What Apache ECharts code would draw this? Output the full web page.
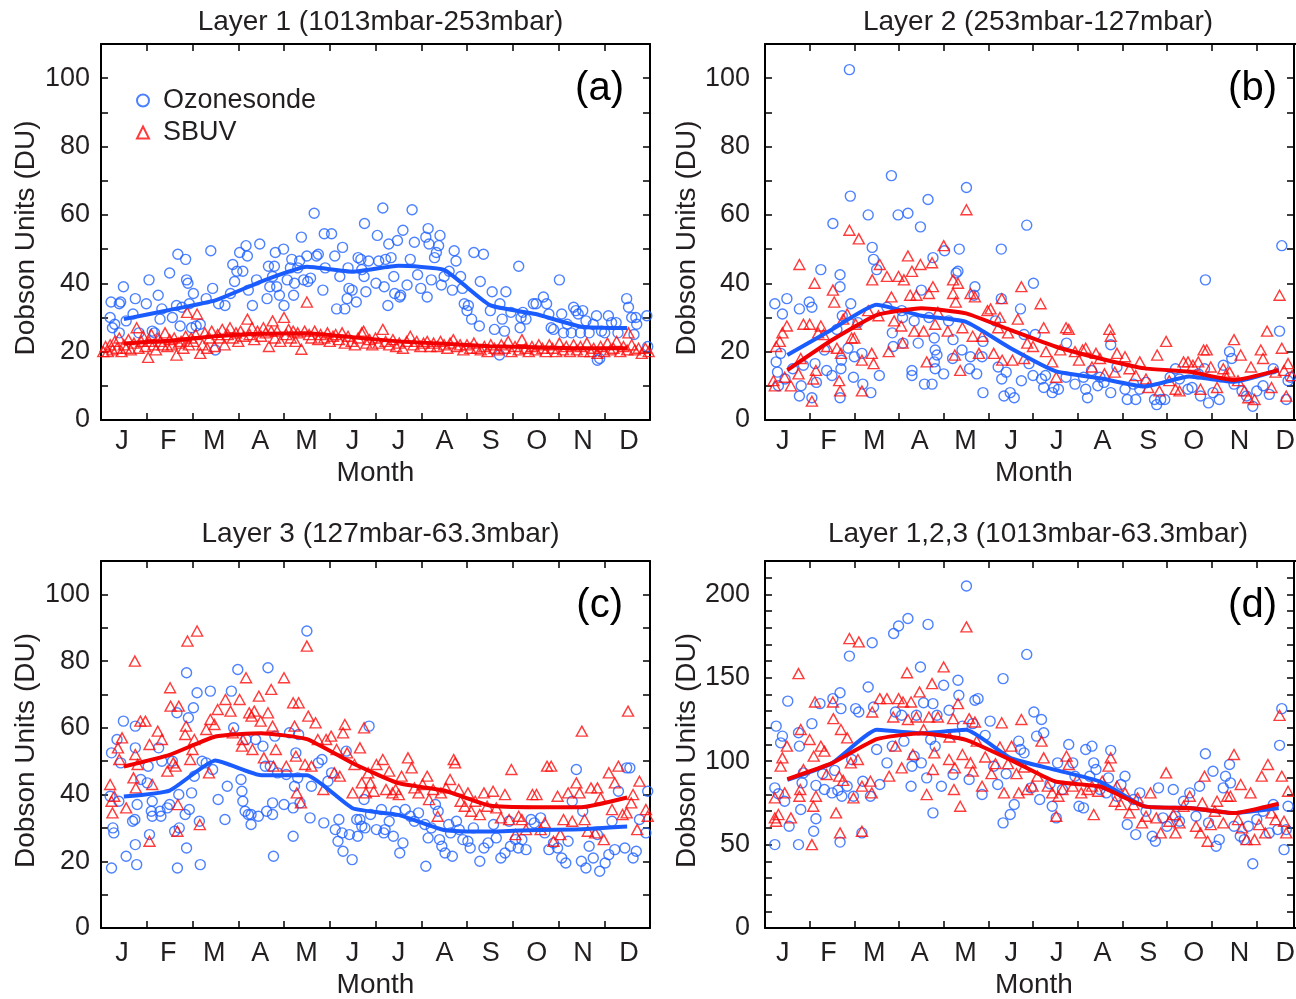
<!DOCTYPE html>
<html>
<head>
<meta charset="utf-8">
<script src="https://cdn.jsdelivr.net/npm/echarts@6/dist/echarts.min.js"></script>
<style>
html,body{margin:0;padding:0;background:#fff;}
#chart{width:1296px;height:999px;}
</style>
</head>
<body>
<div id="chart"></div>
<script>
// ---------------- DATA ----------------
const months = ['J','F','M','A','M','J','J','A','S','O','N','D'];
const monthMid = [0.5,1.5,2.5,3.5,4.5,5.5,6.5,7.5,8.5,9.5,10.5,11.5];

const titles = ['Layer 1 (1013mbar-253mbar)','Layer 2 (253mbar-127mbar)','Layer 3 (127mbar-63.3mbar)','Layer 1,2,3 (1013mbar-63.3mbar)'];
const letters = ['(a)','(b)','(c)','(d)'];

// Panel (a)
const sondeA = [[0.2,30],[0.22,34.5],[0.25,27],[0.3,28],[0.4,34],[0.43,34.5],[0.49,39],[0.55,29],[0.4,25.5],[0.7,31],[0.75,35.5],[0.83,25.5],[0.99,34],[1.05,41],[1.12,26],[1.17,25.5],[1.25,36.5],[1.29,29.5],[1.33,32.5],[1.5,43],[1.56,30],[1.65,33.5],[1.68,48.5],[1.73,27.5],[1.77,33],[1.85,47],[1.87,41],[1.9,40],[1.93,34],[1.98,27],[2.02,37],[2.08,27.5],[2.17,28],[2.3,35.5],[2.4,49.5],[2.44,38.5],[2.5,20.5],[2.57,34],[2.71,33.5],[2.83,37],[2.88,45.5],[2.92,40.5],[2.97,43.5],[3.03,49],[3.1,43.5],[3.17,51],[3.2,48],[3.22,38],[3.31,33.5],[3.4,41],[3.47,51.5],[3.63,35.5],[3.66,45],[3.69,39],[3.75,42],[3.79,45],[3.81,49],[3.84,39],[3.9,36.5],[3.99,50],[4.0,33.5],[4.07,41],[4.14,44.5],[4.17,47],[4.21,36.5],[4.23,40],[4.3,44.5],[4.34,46.5],[4.38,53.5],[4.43,41],[4.5,48],[4.52,40.5],[4.58,41.5],[4.66,60.5],[4.71,48],[4.75,48.5],[4.85,38],[4.88,54.5],[4.9,44.5],[5.04,54.5],[5.11,48],[5.15,32.5],[5.22,42],[5.28,50.5],[5.33,32.5],[5.38,35.5],[5.4,44.5],[5.42,38.5],[5.49,38],[5.58,34.5],[5.62,47.5],[5.68,47],[5.7,44],[5.75,42],[5.76,57.5],[5.79,37.5],[5.85,46.5],[6.01,40],[6.04,54],[6.07,46.5],[6.16,62],[6.19,39],[6.22,47],[6.27,33.5],[6.29,51.5],[6.34,47.5],[6.4,42],[6.42,37],[6.48,52.5],[6.53,36],[6.55,36.5],[6.6,55.5],[6.69,39.5],[6.76,47],[6.8,61.5],[6.85,52],[6.92,42.5],[6.99,38.5],[7.1,53.5],[7.13,36],[7.15,56],[7.17,51.5],[7.22,41],[7.29,47.5],[7.33,49],[7.38,51],[7.41,54],[7.44,39.5],[7.5,42],[7.61,43.5],[7.68,38],[7.72,49.5],[7.76,46.5],[7.86,42],[7.9,38.5],[7.94,34],[8.0,32],[8.03,33.5],[8.1,29.5],[8.15,49],[8.27,27.5],[8.29,40.5],[8.36,48.5],[8.51,32],[8.55,37.5],[8.6,26.5],[8.71,19],[8.72,34],[8.77,29.5],[8.82,26],[8.85,37.5],[8.96,31.5],[9.13,45],[9.16,27],[9.18,30],[9.22,31.5],[9.29,29.5],[9.45,34],[9.51,34],[9.67,36],[9.74,34],[9.79,31],[9.84,27],[9.89,26.5],[10.02,41],[10.07,31],[10.11,25.5],[10.19,28],[10.28,25.5],[10.33,33],[10.38,32],[10.43,31],[10.48,25.5],[10.53,32],[10.6,29],[10.67,25.5],[10.76,28],[10.83,30.5],[10.85,17.5],[10.9,18],[10.94,26],[11.01,25.5],[11.09,30.5],[11.16,28.5],[11.26,28.5],[11.3,25.5],[11.49,35.5],[11.53,33],[11.6,30],[11.65,25],[11.69,30],[11.71,28],[11.93,30.5],[11.95,21.5]];
const sbuvA = [[0.05,20],[0.1,21.5],[0.15,20],[0.2,22],[0.25,20.5],[0.3,23],[0.35,21],[0.4,24],[0.45,20],[0.5,22],[0.55,21],[0.6,23.5],[0.65,20.5],[0.72,22.5],[0.78,27],[0.82,21],[0.88,23],[0.92,24.5],[0.97,21.5],[1.03,18.3],[1.05,23],[1.1,25],[1.15,22],[1.2,20.5],[1.25,24],[1.3,23],[1.35,22],[1.4,25.5],[1.45,21.5],[1.5,23.5],[1.55,22],[1.6,24],[1.65,19],[1.7,22.5],[1.75,23],[1.8,21],[1.85,24.5],[1.88,31.5],[1.92,22],[1.97,24],[2.02,23],[2.07,25],[2.1,31],[2.17,19.5],[2.22,22],[2.27,25.5],[2.32,21],[2.37,24],[2.42,26],[2.48,21.5],[2.55,25],[2.6,24],[2.65,26.5],[2.7,22],[2.77,25],[2.82,27],[2.88,24],[2.95,25.5],[3.0,23],[3.05,26],[3.12,24.5],[3.2,29.5],[3.25,25],[3.3,27],[3.35,23.5],[3.42,26],[3.5,24.5],[3.55,27],[3.6,25.5],[3.67,21.5],[3.72,26],[3.75,29],[3.8,24],[3.85,26],[3.92,23],[4.0,30],[4.05,25],[4.1,26.5],[4.15,24],[4.2,26],[4.25,23],[4.3,25.5],[4.38,20.7],[4.45,26],[4.5,34.5],[4.55,25],[4.6,24],[4.67,26],[4.75,23.5],[4.8,25],[4.88,24],[4.95,25.5],[5.0,23],[5.07,24.5],[5.13,25],[5.2,23.5],[5.27,25.5],[5.33,22.5],[5.4,24.5],[5.48,23],[5.55,22],[5.62,24],[5.7,25.5],[5.74,26],[5.8,22.5],[5.87,23.5],[5.93,22],[6.0,24],[6.07,22.5],[6.16,26.5],[6.22,23],[6.3,22],[6.38,23.5],[6.45,21.5],[6.52,22.5],[6.6,21],[6.68,23],[6.76,24.5],[6.83,22],[6.9,23],[6.98,21.5],[7.05,22.5],[7.13,23],[7.2,21.5],[7.27,22.5],[7.35,21.5],[7.42,23],[7.5,22],[7.57,21],[7.63,22.5],[7.7,23.5],[7.78,21.5],[7.85,22],[7.92,20.5],[8.0,22],[8.07,21],[8.15,22.5],[8.22,21],[8.3,20.5],[8.38,21.5],[8.45,20],[8.52,22],[8.6,21],[8.68,20.5],[8.75,22],[8.82,21],[8.9,23],[8.97,20],[9.05,21.5],[9.13,20.5],[9.2,23.5],[9.28,21],[9.35,20],[9.42,21.5],[9.5,20.5],[9.57,22],[9.65,21],[9.72,20],[9.8,22],[9.87,21],[9.95,20],[10.02,22.5],[10.1,20.5],[10.17,21.5],[10.25,20],[10.33,22],[10.4,20.5],[10.48,21.5],[10.55,20],[10.62,22.5],[10.7,20],[10.77,21],[10.85,19.5],[10.92,21.5],[11.0,20],[11.07,22.5],[11.13,20.5],[11.2,21],[11.27,23],[11.35,20],[11.42,21.5],[11.5,20.5],[11.53,25.5],[11.6,22],[11.67,20.5],[11.75,21],[11.82,19.5],[11.9,21],[11.97,20]];
const meanSondeA = [29.5,32.2,35,40.5,44.8,43.4,45.1,43.9,33.6,31,27.3,26.9];
const meanSbuvA = [22.4,23.2,24.5,25.2,25.4,24.2,23,22.3,21.6,21.3,21,21];

// Panel (b)
const sondeB = [[0.22,34],[0.25,17],[0.28,14],[0.3,10],[0.35,19.5],[0.39,31],[0.45,12],[0.49,35.5],[0.62,15],[0.77,7],[0.77,32.5],[0.81,10],[0.86,16],[0.99,34.5],[1.05,33],[1.05,6.5],[1.12,16.5],[1.15,11],[1.25,44],[1.33,20.5],[1.38,14.5],[1.5,13],[1.52,57.5],[1.61,26.5],[1.68,42.5],[1.68,39],[1.7,15],[1.71,17.5],[1.68,6.5],[1.73,30.5],[1.89,102.5],[1.91,65.5],[1.92,34],[1.86,21],[2.0,18.5],[1.98,12.5],[2.08,28.5],[2.17,19.5],[2.19,10.5],[2.31,60],[2.37,8],[2.4,50.5],[2.43,47],[2.5,44],[2.56,13],[2.73,33],[2.83,71.5],[2.85,25.5],[2.87,21.5],[2.98,60],[3.06,32],[3.08,30],[3.09,22.5],[3.2,60.5],[3.29,14.5],[3.29,13],[3.34,29],[3.43,22.5],[3.48,56.5],[3.5,38],[3.57,10.5],[3.65,64.5],[3.67,30],[3.74,10.5],[3.76,47.5],[3.79,17],[3.81,20.5],[3.79,24],[3.85,19],[3.81,15],[4.0,13.5],[4.02,49.5],[4.11,29],[4.2,18],[4.21,23.5],[4.28,43],[4.32,43.5],[4.35,50],[4.41,20.5],[4.51,68],[4.58,15],[4.6,18.5],[4.68,36.5],[4.7,39],[4.74,13.5],[4.88,8],[4.88,23],[4.86,18.5],[5.16,29],[5.22,15.5],[5.29,50],[5.29,35.5],[5.3,12],[5.35,7],[5.4,14],[5.49,8],[5.58,6.5],[5.72,32.5],[5.74,11.5],[5.8,25],[5.86,57],[5.91,16.5],[6.01,40],[6.0,13],[6.05,25],[6.19,12],[6.24,9.5],[6.28,13],[6.43,8],[6.47,9.5],[6.57,9],[6.75,22.5],[6.74,12.5],[6.94,10.5],[7.13,12.5],[7.18,9],[7.22,6.5],[7.31,14.5],[7.45,10],[7.5,12.5],[7.59,11],[7.74,22],[7.74,8],[7.88,15.5],[8.06,9],[8.11,6],[8.25,10.5],[8.3,6],[8.39,9],[8.53,11],[8.72,6],[8.77,4.5],[8.86,6],[8.95,6],[9.07,12.5],[9.19,15],[9.28,12],[9.47,9],[9.56,9.5],[9.7,13.5],[9.75,7],[9.84,15],[9.86,41],[9.93,5],[10.03,8],[10.17,6],[10.26,16],[10.4,20],[10.45,18],[10.5,10.5],[10.68,8.5],[10.78,7],[10.92,4],[11.01,8.5],[11.15,10],[11.29,7.5],[11.38,15],[11.52,26],[11.57,51],[11.67,6],[11.71,11.5],[11.76,12.5]];
const sbuvB = [[0.19,11.5],[0.22,10],[0.25,21.5],[0.33,23],[0.39,25.5],[0.49,27.5],[0.44,12.5],[0.58,10],[0.77,45.5],[0.75,13.5],[0.8,18],[0.86,28],[1.0,28],[1.05,5.5],[1.08,12],[1.11,40],[1.14,14.5],[1.19,25.5],[1.25,27.5],[1.31,25],[1.39,21.5],[1.52,38],[1.55,34.5],[1.61,21],[1.66,11.5],[1.68,8.5],[1.7,19.5],[1.75,29.5],[1.84,31],[1.89,55.5],[1.94,24],[2.0,24],[2.03,28],[2.1,53],[2.17,8.5],[2.17,17.5],[2.31,32],[2.39,19.5],[2.4,41],[2.43,16.5],[2.54,30.5],[2.57,45.5],[2.73,42],[2.77,20],[2.83,36],[2.89,29],[2.99,42],[3.05,27.5],[3.08,22.5],[3.11,41],[3.2,48],[3.25,36.5],[3.29,43.5],[3.34,26],[3.39,36.5],[3.48,45.5],[3.55,26],[3.62,17],[3.67,37],[3.74,46],[3.76,39],[3.81,28],[3.87,31.5],[4.0,51],[4.09,26],[4.21,41],[4.21,37],[4.25,19],[4.27,34.5],[4.32,40],[4.37,14.5],[4.42,27],[4.51,61.5],[4.6,37],[4.65,24.5],[4.7,36],[4.79,19.5],[4.86,24.5],[4.98,32],[5.05,32.5],[5.12,19.5],[5.22,27],[5.26,30],[5.3,35.5],[5.31,17.5],[5.44,25.5],[5.54,17.5],[5.66,29.5],[5.74,39],[5.8,18],[5.87,22.5],[6.0,21.5],[6.17,34],[6.24,27],[6.29,20],[6.43,17],[6.52,12.5],[6.61,20.5],[6.74,27],[6.8,26.5],[6.94,20],[7.03,17.5],[7.11,20.5],[7.18,21],[7.32,15.5],[7.41,19.5],[7.5,18],[7.6,13.5],[7.71,26.5],[7.74,24.5],[7.83,14],[7.88,19.5],[8.06,18.5],[8.16,15],[8.3,13],[8.39,17],[8.53,12],[8.58,9.5],[8.78,19],[8.83,8.5],[8.98,23],[9.05,11.5],[9.19,9],[9.28,8.5],[9.37,17],[9.47,17],[9.58,16],[9.7,17],[9.75,9],[9.82,20.5],[9.89,20.5],[9.98,15.5],[10.12,9.5],[10.26,15],[10.31,13],[10.4,14],[10.5,23.5],[10.59,11.5],[10.65,19],[10.73,8.5],[10.82,6.5],[10.88,15.5],[10.96,6],[11.1,20.5],[11.15,18],[11.24,26],[11.34,9.5],[11.43,14],[11.52,36.5],[11.57,21],[11.62,14.5],[11.67,7],[11.71,16.5],[11.8,13]];
const meanSondeB = [19,26.5,33.7,30.5,28.7,21,14.3,12.2,9.8,12.7,11.2,14.6];
const meanSbuvB = [14.6,23.4,30.7,32.7,31.2,26.3,21.5,18,15.1,14.1,11.7,14.6];

// Panel (c)
const sondeC = [[0.2,39.5],[0.23,52.5],[0.23,18],[0.26,30],[0.28,28.5],[0.35,56.5],[0.39,38],[0.43,49.5],[0.49,62],[0.55,21.5],[0.69,32],[0.74,32.5],[0.75,60.5],[0.75,54],[0.75,25],[0.78,19],[0.79,37],[0.87,44.5],[1.01,43.5],[1.03,48.5],[1.06,28],[1.1,35],[1.12,33.5],[1.12,38],[1.26,54],[1.29,35],[1.31,33.5],[1.33,50],[1.45,36],[1.5,37],[1.56,50],[1.61,29],[1.66,64.5],[1.67,18],[1.7,40],[1.71,30],[1.84,34],[1.87,24],[1.87,76.5],[1.91,63],[1.93,35.5],[1.98,40.5],[2.02,66],[2.04,45.5],[2.1,70.5],[2.15,32],[2.17,19],[2.21,50],[2.3,49.5],[2.39,71],[2.44,47.5],[2.56,38.5],[2.71,32.5],[2.76,42.5],[2.85,71],[2.9,60],[2.99,77.5],[3.06,44.5],[3.08,41],[3.1,38],[3.15,35],[3.17,56.5],[3.22,34],[3.28,31],[3.28,34],[3.38,56.5],[3.44,33.5],[3.54,54.5],[3.59,48.5],[3.62,35],[3.65,78],[3.7,48.5],[3.75,37.5],[3.75,34],[3.77,21.5],[3.8,57.5],[3.86,46.5],[4.0,37],[4.05,46],[4.12,58.5],[4.2,36],[4.2,27.5],[4.23,42.5],[4.26,52.5],[4.3,45],[4.32,58],[4.35,37.5],[4.5,89],[4.57,33],[4.6,42.5],[4.75,49.5],[4.83,50.5],[4.87,31.5],[4.96,44],[5.04,46.5],[5.12,29.5],[5.18,26],[5.2,32.5],[5.27,28.5],[5.29,23],[5.36,53],[5.43,28],[5.49,20.5],[5.59,32.5],[5.61,27.5],[5.66,32.5],[5.7,30.5],[5.75,38.5],[5.77,30],[5.86,60.5],[5.89,34],[6.02,29.5],[6.13,35.5],[6.18,28.5],[6.21,29.5],[6.3,32],[6.39,27.5],[6.44,35],[6.53,22.5],[6.6,25.5],[6.65,35.5],[6.76,33.5],[6.85,32],[6.94,34.5],[7.08,31],[7.1,18.5],[7.15,27],[7.22,30],[7.31,37],[7.37,35],[7.4,26.5],[7.45,24.5],[7.52,22.5],[7.6,31],[7.64,28.5],[7.68,21.5],[7.77,32],[7.83,29.5],[7.91,26.5],[8.02,26],[8.07,24],[8.14,30],[8.28,20],[8.37,24],[8.46,25.5],[8.58,31],[8.64,27],[8.74,21],[8.83,22.5],[8.92,32],[8.95,24.5],[9.06,26.5],[9.12,24],[9.2,26.5],[9.29,23.5],[9.4,32.5],[9.47,31.5],[9.61,33],[9.7,28.5],[9.79,23.5],[9.89,25.5],[9.98,24],[10.07,21],[10.16,19.5],[10.21,26],[10.3,38],[10.39,47.5],[10.5,20],[10.53,35],[10.6,18],[10.67,24.5],[10.76,21],[10.85,28],[10.9,17],[11.02,19.5],[11.1,22],[11.17,32],[11.23,23.5],[11.31,41],[11.45,24],[11.49,48],[11.56,48],[11.63,21],[11.7,23],[11.77,32.5],[11.91,28.5],[11.95,41]];
const sbuvC = [[0.2,43],[0.23,38],[0.25,34.5],[0.29,39.5],[0.37,54],[0.4,50.5],[0.46,57],[0.55,36],[0.71,45],[0.74,80],[0.75,52],[0.76,42],[0.8,49],[0.86,62],[0.97,62],[1.06,55],[1.06,26],[1.12,43],[1.24,59],[1.33,56.5],[1.45,47],[1.51,72],[1.52,66.5],[1.58,49.5],[1.63,48.5],[1.67,29],[1.68,37],[1.7,66.5],[1.84,58],[1.86,60.5],[1.89,86],[1.95,50.5],[2.0,53.5],[2.04,56.5],[2.1,89],[2.16,31],[2.3,59.5],[2.36,46.5],[2.39,62.5],[2.48,61],[2.55,65.5],[2.72,68.5],[2.83,65],[2.88,58.5],[3.03,68.5],[3.08,54.5],[3.1,56.5],[3.17,75],[3.24,64.5],[3.29,63.5],[3.31,53.5],[3.35,65],[3.45,69.5],[3.49,62],[3.56,51],[3.65,64.5],[3.72,71.5],[3.75,60.5],[3.77,48.5],[3.82,53.5],[4.0,75],[4.05,48.5],[4.2,67.5],[4.23,60.5],[4.26,51.5],[4.28,40.5],[4.32,67.5],[4.37,37.5],[4.46,49],[4.5,84.5],[4.53,63.5],[4.6,48.5],[4.69,61.5],[4.74,56.5],[4.86,41.5],[4.92,56.5],[5.03,57.5],[5.1,46.5],[5.15,53.5],[5.22,45.5],[5.29,58.5],[5.33,61],[5.38,52.5],[5.5,40.5],[5.54,49],[5.66,54],[5.7,43.5],[5.75,60],[5.79,40.5],[5.84,46.5],[5.89,43.5],[5.96,41],[6.02,49],[6.16,50.5],[6.23,41.5],[6.3,47],[6.37,40.5],[6.44,41.5],[6.51,40],[6.57,45.5],[6.71,51],[6.79,48],[6.85,42],[6.94,40.5],[7.03,43],[7.13,45.5],[7.17,38.5],[7.26,41.5],[7.36,33.5],[7.43,40.5],[7.54,42],[7.63,44.5],[7.71,50.5],[7.74,49.5],[7.82,41.5],[7.86,38],[7.95,36.5],[8.02,40.5],[8.09,35],[8.18,38],[8.28,34],[8.37,40.5],[8.44,36.5],[8.57,41],[8.64,36],[8.74,33],[8.83,40],[8.92,32.5],[8.97,47.5],[9.06,28],[9.13,33.5],[9.2,32.5],[9.29,29.5],[9.43,40],[9.52,40],[9.61,29.5],[9.7,31.5],[9.75,48.5],[9.84,48.5],[9.89,26],[9.98,39.5],[10.04,28],[10.11,32.5],[10.21,40.5],[10.3,32],[10.39,43.5],[10.46,40.5],[10.51,59],[10.57,32.5],[10.64,29],[10.71,42],[10.8,28.5],[10.85,42],[10.92,39],[10.99,26.5],[11.1,46.5],[11.17,35.5],[11.23,43.5],[11.31,48.5],[11.4,34],[11.49,34.5],[11.52,65],[11.59,37.5],[11.63,40],[11.72,29.5],[11.77,44],[11.91,35.5],[11.95,33.5]];
const meanSondeC = [39.4,41.2,50.2,45.8,45.8,35.9,33.9,29.4,28.9,29.4,29.6,30.4];
const meanSbuvC = [48.4,51.9,57.4,58.4,56.6,49.4,43.4,41.2,36.7,36.2,36.2,39.1];

// Panel (d)
const sondeD = [[0.22,50],[0.22,84],[0.25,121],[0.3,80.5],[0.35,111],[0.39,115],[0.44,76],[0.51,136],[0.54,61],[0.75,50],[0.75,117],[0.77,109],[0.8,71],[0.83,87],[0.86,93],[1.05,122.5],[1.09,58],[1.14,65.5],[1.14,85.5],[1.23,134.5],[1.29,92.5],[1.33,83],[1.5,81],[1.52,137.5],[1.56,94.5],[1.63,82.5],[1.68,51.5],[1.68,141],[1.7,131.5],[1.72,79],[1.84,85],[1.89,163],[1.94,101],[1.98,79],[2.03,131.5],[2.1,129.5],[2.17,57],[2.19,88],[2.31,144.5],[2.36,79],[2.4,171],[2.43,132.5],[2.5,107],[2.57,86],[2.73,99],[2.85,109],[2.88,176.5],[2.92,129.5],[2.99,181],[3.06,127.5],[3.11,112],[3.2,185.5],[3.27,85],[3.29,97],[3.34,103],[3.39,127.5],[3.48,156.5],[3.5,99],[3.55,135],[3.62,90],[3.65,182],[3.71,113],[3.76,134.5],[3.76,69],[3.81,109],[3.85,127.5],[3.95,85],[4.0,145.5],[4.12,130.5],[4.21,92],[4.25,116],[4.32,148.5],[4.34,139.5],[4.42,121],[4.51,205],[4.57,89],[4.65,122.5],[4.7,136.5],[4.77,137.5],[4.86,80],[4.93,115.5],[5.04,124],[5.12,97],[5.21,86],[5.33,149.5],[5.33,63],[5.4,92.5],[5.49,68],[5.58,74],[5.68,112],[5.72,107],[5.8,105],[5.86,164],[5.96,84],[6.02,129.5],[6.08,115],[6.15,77],[6.19,125],[6.24,117],[6.38,86.5],[6.43,73],[6.52,66],[6.55,99],[6.66,83],[6.8,110],[6.89,99],[6.94,91],[7.03,73],[7.13,72],[7.18,107],[7.27,91],[7.32,109],[7.36,99],[7.41,95],[7.5,83],[7.64,81],[7.69,90],[7.74,106.5],[7.88,79],[7.97,86],[8.06,91],[8.11,62],[8.25,77],[8.3,56],[8.39,81],[8.53,70],[8.67,55],[8.74,52],[8.81,84],[8.91,66],[9.0,61],[9.14,83],[9.19,67],[9.28,64],[9.37,76],[9.51,81],[9.65,67],[9.73,85],[9.86,104.5],[9.93,63],[10.03,94],[10.1,49],[10.17,53],[10.26,84],[10.31,91],[10.4,98],[10.42,87],[10.5,61],[10.64,55],[10.73,53],[10.82,61],[10.92,38.5],[11.01,65],[11.15,70],[11.29,57],[11.38,74],[11.48,59],[11.52,109.5],[11.57,131.5],[11.62,47],[11.67,59],[11.71,73]];
const sbuvD = [[0.22,78],[0.22,66],[0.25,64],[0.3,68],[0.35,97],[0.39,102],[0.49,109],[0.44,81],[0.58,66],[0.75,152.5],[0.77,79],[0.79,83],[0.8,119],[0.86,95],[1.0,113],[1.05,50],[1.08,73],[1.09,103],[1.12,135.5],[1.14,79],[1.25,109],[1.33,106],[1.38,92],[1.52,135.5],[1.53,125.5],[1.59,69],[1.66,91],[1.68,57],[1.7,119],[1.75,88.5],[1.84,114],[1.89,173.5],[1.92,99],[1.98,78],[2.08,101],[2.1,171.5],[2.17,58],[2.17,85],[2.36,88],[2.39,81],[2.4,129.5],[2.57,137.5],[2.73,137.5],[2.78,91],[2.87,126.5],[2.92,109],[2.99,137.5],[3.06,96],[3.09,135.5],[3.18,153],[3.2,125],[3.27,135.5],[3.31,104],[3.39,126.5],[3.46,141.5],[3.55,119],[3.62,80],[3.67,126.5],[3.74,146.5],[3.76,95],[3.79,105],[3.87,126.5],[4.0,156.5],[4.12,101],[4.13,114.5],[4.21,125.5],[4.23,83],[4.25,96],[4.32,134.5],[4.37,73],[4.42,104],[4.51,180.5],[4.57,125.5],[4.6,99],[4.65,94],[4.7,123.5],[4.74,112],[4.86,85],[4.93,102.5],[5.07,92.5],[5.16,98.5],[5.26,108.5],[5.3,123],[5.35,81],[5.44,98.5],[5.52,109],[5.63,92.5],[5.68,81],[5.74,125],[5.8,96.5],[5.87,83],[5.99,85],[6.1,91],[6.19,112],[6.24,102],[6.33,85],[6.43,81],[6.52,67],[6.57,79],[6.66,83],[6.75,103],[6.8,98],[6.89,85],[6.99,89],[7.08,81],[7.22,83],[7.32,85],[7.36,68],[7.46,82],[7.55,88],[7.69,97],[7.74,102],[7.83,76],[7.88,85],[7.97,74],[8.06,81],[8.16,69],[8.25,74],[8.34,78],[8.44,63],[8.53,67],[8.63,81],[8.76,66],[8.86,57],[8.98,93],[9.05,64],[9.14,68],[9.19,57],[9.28,63],[9.37,73],[9.51,79],[9.65,61],[9.75,57],[9.79,75],[9.84,91],[9.91,52],[9.98,62],[10.07,70],[10.12,76],[10.26,63],[10.35,79],[10.42,79],[10.5,104],[10.59,65],[10.65,86],[10.68,60],[10.78,53],[10.87,81],[10.96,53],[11.06,62],[11.12,91],[11.2,57],[11.26,98],[11.34,69],[11.43,65],[11.52,127.5],[11.57,91],[11.62,64],[11.67,57],[11.71,82]];
const meanSondeD = [88.8,98.8,118.8,116.8,118.8,101.8,94.8,87.8,72.9,71.9,68.9,71.9];
const meanSbuvD = [89.2,98.8,113.2,116.8,112.8,100.8,87.8,84.8,72.9,71.9,68.9,74.5];

const yMaxes = [110,110,110,220];
const yLabelSteps = [20,20,20,50];

// ---------------- STYLE / LAYOUT ----------------
const FONT = "'Liberation Sans', Arial, Helvetica, sans-serif";
const TXT = '#231f20';
const BLUE = '#1f62ff';
const BLUE_LINE = '#1b5cff';
const RED = '#ff0a0a';
const RED_LINE = '#f00000';
const TICK_FS = 27, NAME_FS = 28, TITLE_FS = 28;

// plotting frames
const grids = [
  {left:101, top:44, width:549, height:376},
  {left:765, top:44, width:536, height:376},
  {left:101, top:561, width:549, height:367},
  {left:765, top:561, width:536, height:367}
];
// frames that carry the month letters and the "Month" name (labels spread slightly wider than ticks)
const labelGrids = [
  {left:99, top:44, width:553, height:376},
  {left:760, top:44, width:548, height:376},
  {left:99, top:561, width:553, height:367},
  {left:760, top:561, width:548, height:367}
];
const labelMargins = [11,15,11,15];
const nameGaps = [61,64,61,64];
const rightOffsets = [0,-7,0,-7];
const monthMargins = [8,8,12,12];
const monthNameGaps = [39,39,43,43];

const panels = [
  {sonde:sondeA, sbuv:sbuvA, mSonde:meanSondeA, mSbuv:meanSbuvA},
  {sonde:sondeB, sbuv:sbuvB, mSonde:meanSondeB, mSbuv:meanSbuvB},
  {sonde:sondeC, sbuv:sbuvC, mSonde:meanSondeC, mSbuv:meanSbuvC},
  {sonde:sondeD, sbuv:sbuvD, mSonde:meanSondeD, mSbuv:meanSbuvD}
];

const xAxes = [], yAxes = [], series = [], titleList = [];
const axisLineStyle = {color:'#000', width:2};
const tickStyle = {color:'#000', width:1.5};

panels.forEach((p, i) => {
  const g = grids[i];
  // data x axis (hidden)              index 3i
  xAxes.push({type:'value', gridIndex:i, min:0, max:12, show:false});
  // bottom month tick axis            index 3i+1
  xAxes.push({
    type:'category', gridIndex:i, position:'bottom', data:months, boundaryGap:true,
    axisLine:{show:true, lineStyle:axisLineStyle},
    axisTick:{show:true, inside:true, length:7, lineStyle:tickStyle},
    axisLabel:{show:false}, splitLine:{show:false}
  });
  // top axis (ticks only)             index 3i+2
  xAxes.push({
    type:'category', gridIndex:i, position:'top', data:months, boundaryGap:true,
    axisLine:{show:true, lineStyle:axisLineStyle},
    axisTick:{show:true, inside:true, length:7, lineStyle:tickStyle},
    axisLabel:{show:false}, splitLine:{show:false}
  });
  const step = yLabelSteps[i];
  yAxes.push({
    type:'value', gridIndex:i, position:'left', min:0, max:yMaxes[i], interval:10,
    axisLine:{show:true, lineStyle:axisLineStyle},
    axisTick:{show:true, inside:true, length:7, lineStyle:tickStyle},
    axisLabel:{show:true, fontSize:TICK_FS, fontFamily:FONT, color:TXT, margin:labelMargins[i],
      formatter:v => (v % step === 0 ? String(v) : '')},
    splitLine:{show:false},
    name:'Dobson Units (DU)', nameLocation:'middle', nameGap:nameGaps[i], nameRotate:90,
    nameTextStyle:{fontSize:NAME_FS, fontFamily:FONT, color:TXT, padding:[0,12,0,0]}
  });
  yAxes.push({
    type:'value', gridIndex:i, position:'right', offset:rightOffsets[i], min:0, max:yMaxes[i], interval:10,
    axisLine:{show:true, lineStyle:axisLineStyle},
    axisTick:{show:true, inside:true, length:7, lineStyle:tickStyle},
    axisLabel:{show:false}, splitLine:{show:false}
  });

  const xi = i*3, yi = i*2;
  series.push({
    name:'Ozonesonde', type:'scatter', xAxisIndex:xi, yAxisIndex:yi, data:p.sonde,
    symbol:'circle', symbolSize:10,
    itemStyle:{color:'rgba(255,255,255,0)', borderColor:BLUE, borderWidth:1.4},
    emphasis:{disabled:true}, z:2
  });
  series.push({
    name:'SBUV', type:'scatter', xAxisIndex:xi, yAxisIndex:yi, data:p.sbuv,
    symbol:'triangle', symbolSize:[11,10],
    itemStyle:{color:'rgba(255,255,255,0)', borderColor:RED, borderWidth:1.4},
    emphasis:{disabled:true}, z:3
  });
  series.push({
    name:'Ozonesonde mean', type:'line', xAxisIndex:xi, yAxisIndex:yi,
    data:monthMid.map((m,k)=>[m, p.mSonde[k]]), showSymbol:false, smooth:0.15,
    lineStyle:{color:BLUE_LINE, width:4}, itemStyle:{color:BLUE_LINE}, z:4, emphasis:{disabled:true}
  });
  series.push({
    name:'SBUV mean', type:'line', xAxisIndex:xi, yAxisIndex:yi,
    data:monthMid.map((m,k)=>[m, p.mSbuv[k]]), showSymbol:false, smooth:0.15,
    lineStyle:{color:RED_LINE, width:4}, itemStyle:{color:RED_LINE}, z:5, emphasis:{disabled:true}
  });

  titleList.push({
    text:titles[i], left:g.left + g.width/2, top:(i<2 ? 3 : 515), textAlign:'center',
    textStyle:{fontSize:TITLE_FS, fontWeight:'normal', fontFamily:FONT, color:TXT}
  });
});

// label-only frames (grid indices 4..7)
labelGrids.forEach((lg, i) => {
  xAxes.push({
    type:'category', gridIndex:4+i, position:'bottom', data:months, boundaryGap:true,
    axisLine:{show:false}, axisTick:{show:false}, splitLine:{show:false},
    axisLabel:{show:true, fontSize:TICK_FS, fontFamily:FONT, color:TXT, margin:monthMargins[i], interval:0},
    name:'Month', nameLocation:'middle', nameGap:monthNameGaps[i],
    nameTextStyle:{fontSize:NAME_FS, fontFamily:FONT, color:TXT}
  });
  yAxes.push({type:'value', gridIndex:4+i, min:0, max:1, show:false});
});

// panel letters
const letterPos = [{x:619,y:64},{x:1272,y:64},{x:618,y:581},{x:1272,y:581}];
letters.forEach((l,i) => {
  titleList.push({
    text:l, left:letterPos[i].x, top:letterPos[i].y, textAlign:'right',
    textStyle:{fontSize:40, fontWeight:'normal', fontFamily:FONT, color:'#000'}
  });
});

const chart = echarts.init(document.getElementById('chart'), null, {renderer:'canvas'});
chart.setOption({
  animation:false,
  backgroundColor:'#fff',
  title:titleList,
  legend:{
    data:['Ozonesonde','SBUV'], orient:'vertical', left:131, top:82,
    itemWidth:12, itemHeight:12, itemGap:5,
    textStyle:{fontSize:TICK_FS, fontFamily:FONT, color:TXT, padding:[0,0,0,9]}, selectedMode:false
  },
  grid:grids.concat(labelGrids).map(g => Object.assign({containLabel:false, outerBoundsMode:'none', show:false}, g)),
  xAxis:xAxes,
  yAxis:yAxes,
  series:series
});
</script>
</body>
</html>
